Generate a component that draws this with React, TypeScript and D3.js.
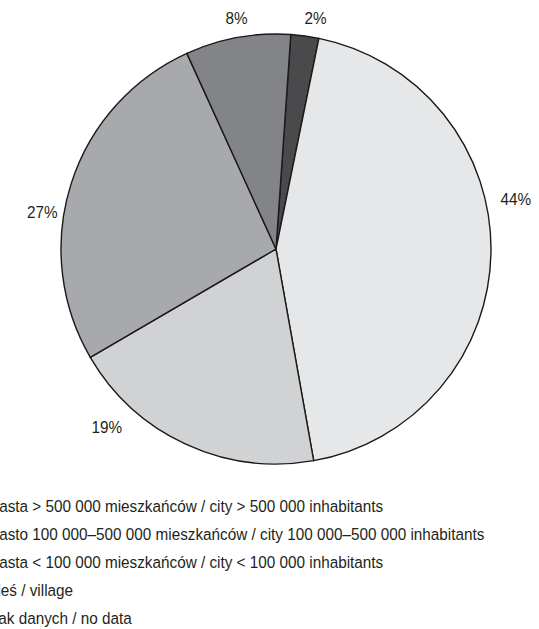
import React from "react";
import * as d3 from "d3";

const categories = [
  "Miasta > 500 000 mieszkańców / city > 500 000 inhabitants",
  "Miasto 100 000–500 000 mieszkańców / city 100 000–500 000 inhabitants",
  "Miasta < 100 000 mieszkańców / city < 100 000 inhabitants",
  "Wieś / village",
  "Brak danych / no data",
];
const values = [7.9, 26.6, 19.4, 44.0, 2.1];
const labels = ["8%", "27%", "19%", "44%", "2%"];
const colors = ["#838487", "#a8a9ac", "#d1d2d4", "#e6e7e8", "#4a4a4c"];
// where the label sits within its slice (0 = slice start, 1 = slice end, clockwise)
const labelFrac = [0.52, 0.41, 0.77, 0.42, 0.76];
const labelRadiusFactor = [1.09, 1.1, 1.14, 1.14, 1.09];

const W = 539;
const H = 629;
const FONT = "'Liberation Sans', Arial, sans-serif";
const SX = 0.9; // condensed look
const FS = 17;

export default function App() {
  const cx = 276;
  const cy = 249;
  const R = 215;
  const startAngle = (3.95 * Math.PI) / 180;

  // draw in reverse order (clockwise: no data, village, <100k, 100k-500k, >500k)
  const order = d3.range(values.length).reverse();
  const pie = d3
    .pie<number>()
    .sort(null)
    .value((i) => values[i])
    .startAngle(startAngle)
    .endAngle(startAngle + 2 * Math.PI);
  const arcs = pie(order);
  const arcGen = d3.arc<d3.PieArcDatum<number>>().innerRadius(0).outerRadius(R);

  const legendY = d3.scaleLinear().domain([0, 4]).range([506, 618]);

  return (
    <svg
      width={W}
      height={H}
      style={{ position: "absolute", left: 0, top: 0, background: "#fff" }}
      fontFamily={FONT}
    >
      <g transform={`translate(${cx},${cy})`}>
        {arcs.map((a) => (
          <path
            key={a.data}
            d={arcGen(a) || ""}
            fill={colors[a.data]}
            stroke="#1a1a1a"
            strokeWidth={1.4}
            strokeLinejoin="round"
          />
        ))}
        {arcs.map((a) => {
          const i = a.data;
          const ang = a.startAngle + (a.endAngle - a.startAngle) * labelFrac[i];
          const r = R * labelRadiusFactor[i];
          const x = r * Math.sin(ang);
          const y = -r * Math.cos(ang);
          return (
            <g key={"l" + i} transform={`translate(${x},${y}) scale(${SX},1)`}>
              <text
                x={0}
                y={0}
                textAnchor="middle"
                dominantBaseline="central"
                fontSize={FS}
                fill="#231f20"
              >
                {labels[i]}
              </text>
            </g>
          );
        })}
      </g>
      <g>
        {categories.map((c, i) => (
          <g key={c} transform={`translate(0,${legendY(i)})`}>
            <rect x={-45} y={-6} width={12} height={12} fill={colors[i]} stroke="#1a1a1a" />
            <g transform={`translate(-17,0) scale(${SX},1)`}>
              <text x={0} y={0} dominantBaseline="central" fontSize={FS} fill="#231f20">
                {c}
              </text>
            </g>
          </g>
        ))}
      </g>
    </svg>
  );
}
